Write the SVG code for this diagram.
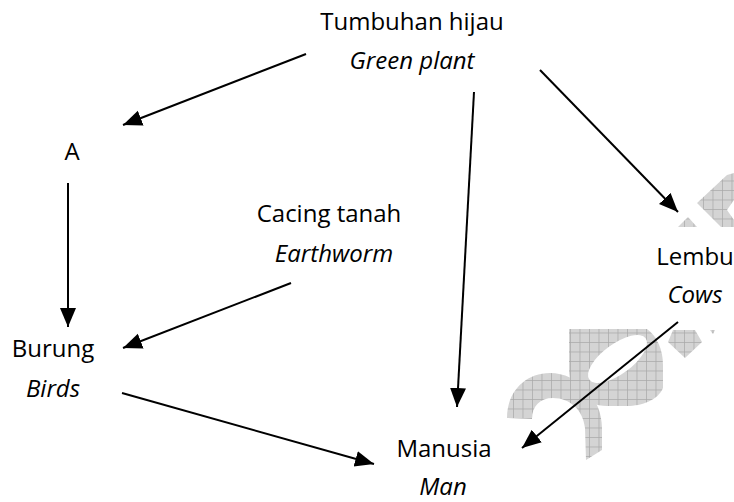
<svg xmlns="http://www.w3.org/2000/svg" width="734" height="502" viewBox="0 0 734 502">
<style>
  .t { font-family: "Open Sans", "Liberation Sans", sans-serif; font-size: 24px; fill: #000; text-anchor: middle; }
  .i { font-style: italic; }
  .c line { stroke: #000; stroke-width: 2; marker-end: url(#ah); }
  .wm { fill: url(#grid); }
</style>
<defs>
  <marker id="ah" markerUnits="userSpaceOnUse" markerWidth="22" markerHeight="18" refX="19" refY="8" orient="auto">
    <path d="M0,0 L19,8 L0,16 Z" fill="#000"/>
  </marker>
  <pattern id="grid" patternUnits="userSpaceOnUse" width="9.5" height="9.5">
    <rect width="9.5" height="9.5" fill="#d4d4d4"/>
    <path d="M0,0.4 H9.5 M0.4,0 V9.5" stroke="#a8a8a8" stroke-width="0.8"/>
  </pattern>
  <mask id="zhole" maskUnits="userSpaceOnUse" x="0" y="0" width="734" height="502">
    <rect x="0" y="0" width="734" height="502" fill="#fff"/>
    <ellipse cx="617.5" cy="359" rx="35" ry="15" transform="rotate(-36.5 617.5 359)" fill="#000"/>
  </mask>
</defs>

<g id="watermark">
  <path class="wm" d="M507,418 C507,392 525,373 550,373 C578,373 602,398 602,428 L602,450 L586,460 L585,428 C583,410 570,398 553,398 C540,398 532,406 532,419 Z"/>
  <path class="wm" mask="url(#zhole)" d="M569,329 L647,329 C657,336 663,350 663,365 L663,388 C658,400 642,406 627,406 L607,406 C585,406 569,390 569,370 Z"/>
  <polygon class="wm" points="673,330 695,330 702,342 685,358 668,342"/>
  <polygon class="wm" points="710,330 715,330 713,334"/>
  <polygon class="wm" points="697,203 727,175 734,173 734,200 727,210 734,220 734,227 721,227"/>
  <polygon class="wm" points="678,227 688,217 697,227"/>
</g>

<g class="c" id="connectors">
  <line x1="306" y1="54" x2="123" y2="125"/>
  <line x1="474" y1="92" x2="457" y2="407"/>
  <line x1="540" y1="70" x2="678" y2="212"/>
  <line x1="68" y1="183" x2="68" y2="327"/>
  <line x1="291" y1="283" x2="123" y2="348"/>
  <line x1="122" y1="393" x2="374" y2="464"/>
  <line x1="678" y1="322" x2="522" y2="448"/>
</g>

<g id="green-plant">
  <text class="t" x="412" y="30">Tumbuhan hijau</text>
  <text class="t i" x="412" y="69">Green plant</text>
</g>
<g id="a">
  <text class="t" x="72" y="160">A</text>
</g>
<g id="earthworm">
  <text class="t" x="329" y="222">Cacing tanah</text>
  <text class="t i" x="334" y="262">Earthworm</text>
</g>
<g id="cows">
  <text class="t" x="695" y="265">Lembu</text>
  <text class="t i" x="695" y="303">Cows</text>
</g>
<g id="birds">
  <text class="t" x="53" y="357">Burung</text>
  <text class="t i" x="53" y="397">Birds</text>
</g>
<g id="man">
  <text class="t" x="444" y="457">Manusia</text>
  <text class="t i" x="443" y="495">Man</text>
</g>
</svg>
